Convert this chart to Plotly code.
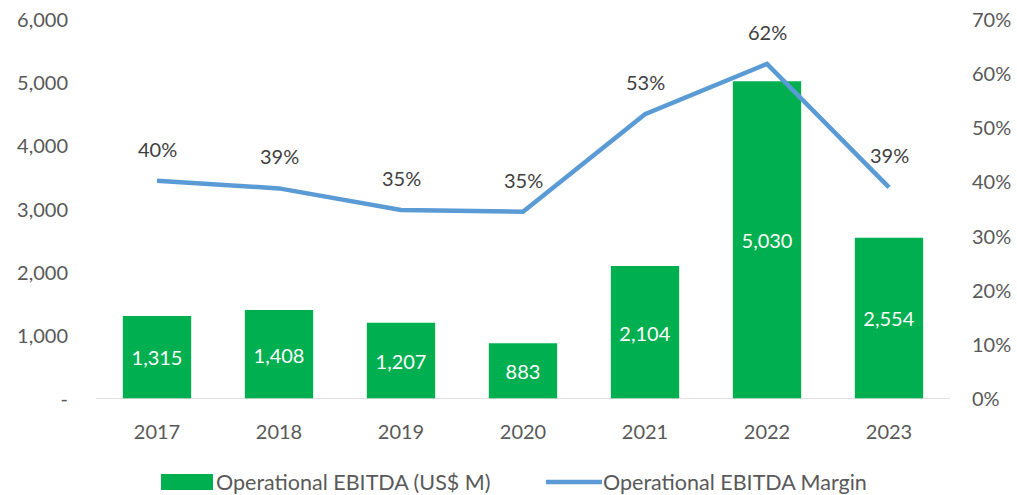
import plotly.graph_objects as go

# data
years = ["2017", "2018", "2019", "2020", "2021", "2022", "2023"]
ebitda = [1315, 1408, 1207, 883, 2104, 5030, 2554]
margin = [0.403, 0.389, 0.349, 0.346, 0.526, 0.619, 0.391]
margin_labels = ["40%", "39%", "35%", "35%", "53%", "62%", "39%"]
left_ticks = [0, 1000, 2000, 3000, 4000, 5000, 6000]
left_tick_text = ["-", "1,000", "2,000", "3,000", "4,000", "5,000", "6,000"]
right_ticks = [0, 0.1, 0.2, 0.3, 0.4, 0.5, 0.6, 0.7]
right_tick_text = ["0%", "10%", "20%", "30%", "40%", "50%", "60%", "70%"]

GREEN = "#00B050"
BLUE = "#5B9BD5"
FONT = "Lato"
TXT = "#595959"
FS = 20
LEG_FS = 21.5

# plot area in pixels, used to place the hand-made legend
L, R, T, B = 96, 950, 20, 399
PW, PH = R - L, B - T


def px(x):
    return (x - L) / PW


def py(y):
    return (B - y) / PH


fig = go.Figure()

fig.add_trace(go.Bar(
    x=years, y=ebitda,
    marker=dict(color=GREEN, line=dict(width=0)),
    width=0.56,
    text=[f"{v:,}" for v in ebitda],
    textposition="inside",
    insidetextanchor="middle",
    textfont=dict(color="white", size=FS, family=FONT),
    name="Operational EBITDA (US$ M)",
    hoverinfo="skip",
))

fig.add_trace(go.Scatter(
    x=years, y=margin, yaxis="y2",
    mode="lines",
    line=dict(color=BLUE, width=4.5),
    name="Operational EBITDA Margin",
))

# margin labels above the line points (x as category index)
for i, (m, lab) in enumerate(zip(margin, margin_labels)):
    fig.add_annotation(x=i, y=m, xref="x", yref="y2", text=lab, showarrow=False,
                       yshift=32, font=dict(size=FS, color="#404040", family=FONT))

# baseline
fig.add_shape(type="line", xref="paper", yref="y", x0=0, x1=1, y0=0, y1=0,
              line=dict(color="#D9D9D9", width=1.5), layer="above")

# hand-made legend with wide swatches like the original
fig.add_shape(type="rect", xref="paper", yref="paper",
              x0=px(161), x1=px(213), y0=py(490), y1=py(474),
              fillcolor=GREEN, line=dict(width=0))
fig.add_annotation(xref="paper", yref="paper", x=px(214), y=py(482),
                   xanchor="left", yanchor="middle", showarrow=False,
                   text="Operational EBITDA (US$ M)", font=dict(size=LEG_FS, color=TXT, family=FONT))
fig.add_shape(type="line", xref="paper", yref="paper",
              x0=px(546), x1=px(602), y0=py(482), y1=py(482),
              line=dict(color=BLUE, width=4.5))
fig.add_annotation(xref="paper", yref="paper", x=px(601), y=py(482),
                   xanchor="left", yanchor="middle", showarrow=False,
                   text="Operational EBITDA Margin", font=dict(size=LEG_FS, color=TXT, family=FONT))

fig.update_layout(
    width=1017, height=495,
    margin=dict(l=L, r=1017 - R, t=T, b=495 - B),
    paper_bgcolor="white", plot_bgcolor="white",
    font=dict(family=FONT, size=FS, color=TXT),
    xaxis=dict(type="category", range=[-0.5, 6.5], showgrid=False, showline=False, ticks="",
               tickfont=dict(size=FS, color=TXT), ticklabelstandoff=19, automargin=False),
    yaxis=dict(range=[0, 6000], tickvals=left_ticks, ticktext=left_tick_text,
               showgrid=False, zeroline=False, showline=False, automargin=False,
               tickfont=dict(size=FS, color=TXT), ticklabelstandoff=27),
    yaxis2=dict(range=[0, 0.7], tickvals=right_ticks, ticktext=right_tick_text,
                overlaying="y", side="right", showgrid=False, zeroline=False,
                showline=False, automargin=False,
                tickfont=dict(size=FS, color=TXT), ticklabelstandoff=21),
    showlegend=False,
)

# drop the default page margin so the figure sits at the window's top-left corner
fig.write_html("out.html", config={"displayModeBar": False},
               post_script="document.body.style.margin='0px';")
